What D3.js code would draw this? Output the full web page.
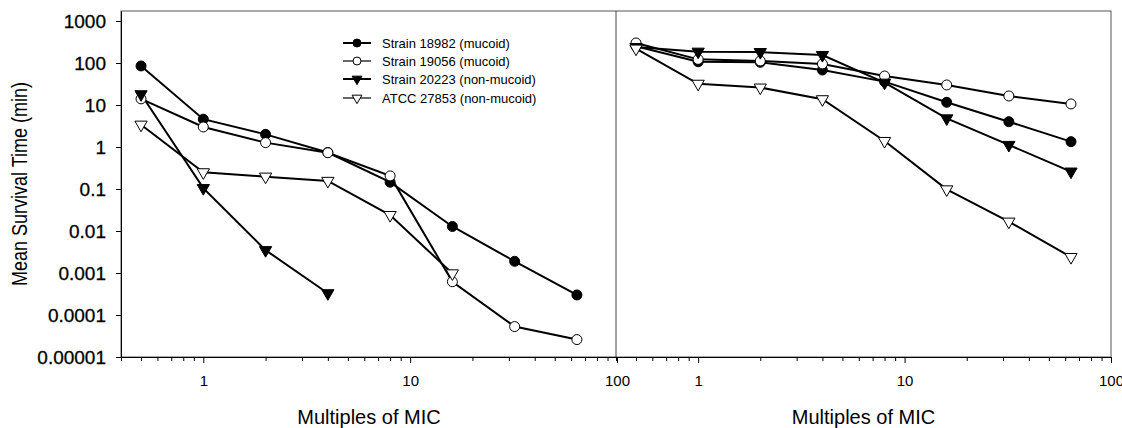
<!DOCTYPE html>
<html>
<head>
<meta charset="utf-8">
<title>Mean survival time vs multiples of MIC</title>
<script src="https://cdn.jsdelivr.net/npm/d3@7"></script>
<style>
  body { margin: 0; background: #fff; }
  svg { font-family: "Liberation Sans", Arial, sans-serif; }
</style>
</head>
<body>
<div id="container"></div>
<script>

// data (x = multiples of MIC, y = mean survival time in min)
var series = ["Strain 18982 (mucoid)", "Strain 19056 (mucoid)", "Strain 20223 (non-mucoid)", "ATCC 27853 (non-mucoid)"];
var markers = ["filledCircle", "openCircle", "filledTriangle", "openTriangle"];

// left panel
var leftX = [0.5, 1, 2, 4, 8, 16, 32, 64];
var left18982 = [85, 4.6, 2.0, 0.74, 0.145, 0.0128, 0.0019, 0.0003];
var left19056 = [14, 3.0, 1.27, 0.73, 0.205, 0.00062, 0.000053, 0.000026];
var left20223 = [18, 0.105, 0.0035, 0.00033];
var leftATCC = [3.4, 0.25, 0.197, 0.156, 0.024, 0.00098];

// right panel
var rightX = [0.5, 1, 2, 4, 8, 16, 32, 64];
var right18982 = [250, 107, 104, 68, 36, 11.6, 4.0, 1.34];
var right19056 = [300, 122, 112, 95, 49, 30, 16.4, 10.6];
var right20223 = [240, 186, 182, 155, 34, 4.8, 1.12, 0.26];
var rightATCC = [220, 32, 26, 13.7, 1.39, 0.098, 0.0167, 0.0024];

var yTicks = [0.00001, 0.0001, 0.001, 0.01, 0.1, 1, 10, 100, 1000];
var yTickLabels = ["0.00001", "0.0001", "0.001", "0.01", "0.1", "1", "10", "100", "1000"];
var xMajor = [1, 10, 100];
var xMinor = [0.4, 0.5, 0.6, 0.7, 0.8, 0.9, 2, 3, 4, 5, 6, 7, 8, 9, 20, 30, 40, 50, 60, 70, 80, 90];

var leftData = [left18982, left19056, left20223, leftATCC];
var rightData = [right18982, right19056, right20223, rightATCC];

var width = 1122, height = 428;
var plotTop = 11, plotBottom = 357;
var leftPanel = [121, 617];
var rightPanel = [616, 1111];

var svg = d3.select("#container")
    .append("svg")
    .attr("width", width)
    .attr("height", height);

var yScale = d3.scaleLog()
    .domain([0.00001, 1730])
    .range([plotBottom, plotTop]);

var xLeft = d3.scaleLog().domain([0.4, 100]).range(leftPanel);
var xRight = d3.scaleLog().domain([0.4, 100]).range(rightPanel);

// frame
svg.append("rect")
    .attr("x", leftPanel[0])
    .attr("y", plotTop)
    .attr("width", rightPanel[1] - leftPanel[0])
    .attr("height", plotBottom - plotTop)
    .attr("fill", "none")
    .attr("stroke", "#555")
    .attr("stroke-width", 1);

svg.append("line")
    .attr("x1", rightPanel[0]).attr("x2", rightPanel[0])
    .attr("y1", plotTop).attr("y2", plotBottom)
    .attr("stroke", "#444")
    .attr("stroke-width", 1);

// y axis
var yAxis = d3.axisLeft(yScale)
    .tickValues(yTicks)
    .tickFormat(function (d, i) { return yTickLabels[i]; })
    .tickSize(5)
    .tickSizeOuter(0)
    .tickPadding(10);

svg.append("g")
    .attr("transform", "translate(" + leftPanel[0] + ",0)")
    .call(yAxis)
    .call(function (g) {
        g.select(".domain").attr("stroke", "#000");
        g.selectAll("text")
            .attr("font-size", 19)
            .attr("font-family", "Liberation Sans, Arial, sans-serif")
            .attr("fill", "#000")
            .attr("stroke", "#000")
            .attr("stroke-width", 0.3);
    });

// x axes
function drawXAxis(scale) {
    var minor = d3.axisBottom(scale)
        .tickValues(xMinor)
        .tickFormat("")
        .tickSize(4)
        .tickSizeOuter(0);
    svg.append("g")
        .attr("transform", "translate(0," + plotBottom + ")")
        .call(minor)
        .call(function (g) { g.select(".domain").attr("stroke", "#000"); });

    var major = d3.axisBottom(scale)
        .tickValues(xMajor)
        .tickFormat(d3.format("d"))
        .tickSize(6)
        .tickSizeOuter(0)
        .tickPadding(12);
    svg.append("g")
        .attr("transform", "translate(0," + plotBottom + ")")
        .call(major)
        .call(function (g) {
            g.select(".domain").remove();
            g.selectAll("text")
                .attr("font-size", 15)
                .attr("font-family", "Liberation Sans, Arial, sans-serif")
                .attr("fill", "#000");
        });
}
drawXAxis(xLeft);
drawXAxis(xRight);

// axis titles
svg.append("text")
    .attr("transform", "translate(27," + (plotTop + plotBottom) / 2 + ") scale(1.25,1) rotate(-90)")
    .attr("text-anchor", "middle")
    .attr("font-size", 18)
    .text("Mean Survival Time (min)");

svg.append("text")
    .attr("x", (leftPanel[0] + leftPanel[1]) / 2)
    .attr("y", 424)
    .attr("text-anchor", "middle")
    .attr("font-size", 20)
    .text("Multiples of MIC");

svg.append("text")
    .attr("x", (rightPanel[0] + rightPanel[1]) / 2)
    .attr("y", 424)
    .attr("text-anchor", "middle")
    .attr("font-size", 20)
    .text("Multiples of MIC");

// marker drawing
var triangle = d3.symbol().type(d3.symbolTriangle);

function drawMarker(g, kind, x, y, r) {
    if (kind === "filledCircle" || kind === "openCircle") {
        g.append("circle")
            .attr("cx", x).attr("cy", y).attr("r", r)
            .attr("fill", kind === "filledCircle" ? "#000" : "#fff")
            .attr("stroke", "#000")
            .attr("stroke-width", 1);
    } else {
        g.append("path")
            .attr("d", triangle.size(r * r * 2.6)())
            .attr("transform", "translate(" + x + "," + y + ") rotate(180)")
            .attr("fill", kind === "filledTriangle" ? "#000" : "#fff")
            .attr("stroke", "#000")
            .attr("stroke-width", 1);
    }
}

function drawPanel(xScale, xs, data) {
    var line = d3.line()
        .x(function (d) { return xScale(d[0]); })
        .y(function (d) { return yScale(d[1]); });

    var g = svg.append("g");
    data.forEach(function (vals) {
        var pts = vals.map(function (v, i) { return [xs[i], v]; });
        g.append("path")
            .datum(pts)
            .attr("d", line)
            .attr("fill", "none")
            .attr("stroke", "#000")
            .attr("stroke-width", 2);
    });
    data.forEach(function (vals, s) {
        vals.forEach(function (v, i) {
            drawMarker(g, markers[s], xScale(xs[i]), yScale(v), 5);
        });
    });
}

drawPanel(xLeft, leftX, leftData);
drawPanel(xRight, rightX, rightData);

// legend
var legend = svg.append("g");
var legendY = [43, 61, 79, 98];
series.forEach(function (name, i) {
    legend.append("line")
        .attr("x1", 343).attr("x2", 371)
        .attr("y1", legendY[i]).attr("y2", legendY[i])
        .attr("stroke", "#000")
        .attr("stroke-width", i === 1 || i === 3 ? 1.2 : 2);
    drawMarker(legend, markers[i], 357, legendY[i], 4);
    legend.append("text")
        .attr("x", 382)
        .attr("y", legendY[i])
        .attr("dy", "0.35em")
        .attr("font-size", 13)
        .text(name);
});

</script>
</body>
</html>
